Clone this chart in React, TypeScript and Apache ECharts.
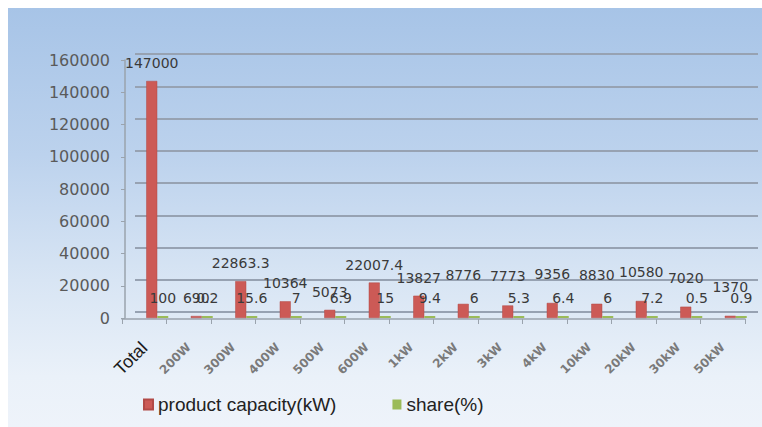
import React, { useEffect, useRef } from "react";
import * as echarts from "echarts";

// Capacity and share per product size
const categories = ["Total", "200W", "300W", "400W", "500W", "600W", "1kW", "2kW", "3kW", "4kW", "10kW", "20kW", "30kW", "50kW"];
const capacity = [147000, 690, 22863.3, 10364, 5073, 22007.4, 13827, 8776, 7773, 9356, 8830, 10580, 7020, 1370];
const share = [100, 0.2, 15.6, 7, 6.9, 15, 9.4, 6, 5.3, 6.4, 6, 7.2, 0.5, 0.9];
const seriesNames = ["product capacity(kW)", "share(%)"];
const yMax = 160000;
const yStep = 20000;

const RED = "#cc5a56";
const GREEN = "#9bbb59";
const AXIS_GRAY = "#9aa3ad";

export default function App() {
  const ref = useRef<HTMLDivElement>(null);

  useEffect(() => {
    if (!ref.current) return;
    const chart = echarts.init(ref.current, null, { renderer: "svg" });

    const labelText = {
      fontFamily: "DejaVu Sans",
      fontSize: 14,
      color: "#3a3a3a",
      formatter: (p: any) => String(p.value),
    };

    // the smaller capacity labels on the right side share one row
    const capacityData = capacity.map((v, i) => ({
      value: v,
      label: i >= 7 ? { offset: [0, -11] } : undefined,
    }));

    chart.setOption({
      animation: false,
      backgroundColor: "transparent",
      legend: {
        data: seriesNames,
        left: 130,
        top: 382,
        icon: "rect",
        itemWidth: 9,
        itemHeight: 10,
        itemGap: 56,
        textStyle: { fontFamily: "Liberation Sans", fontSize: 19, color: "#222" },
      },
      grid: [
        // middle depth: bars and value labels
        { left: 127, right: 4, top: 52, height: 258 },
        // back wall: gridlines sit slightly higher
        { left: 127, right: 4, top: 46, height: 258 },
        // front edge: floor line, ticks and category names
        { left: 114, right: 17, top: 52, height: 259 },
      ],
      xAxis: [
        {
          type: "category",
          gridIndex: 0,
          data: categories,
          axisLine: { show: false },
          axisTick: { show: false },
          axisLabel: { show: false },
        },
        {
          type: "category",
          gridIndex: 1,
          data: categories,
          show: false,
        },
        {
          type: "category",
          gridIndex: 2,
          data: categories,
          axisLine: { show: true, lineStyle: { color: AXIS_GRAY, width: 1.5 } },
          axisTick: { show: true, length: 5, lineStyle: { color: AXIS_GRAY } },
          axisLabel: {
            rotate: 45,
            margin: 26,
            interval: 0,
            formatter: (v: string) => (v === "Total" ? `{t|${v}}` : `{s|${v}}`),
            rich: {
              t: { fontFamily: "Liberation Sans", fontSize: 18, color: "#1a1a1a" },
              s: { fontFamily: "DejaVu Sans", fontSize: 12, fontWeight: "bold", color: "#7a7a7a" },
            },
          },
        },
      ],
      yAxis: [
        {
          type: "value",
          gridIndex: 0,
          min: 0,
          max: yMax,
          interval: yStep,
          offset: 10,
          axisLine: { show: true, lineStyle: { color: AXIS_GRAY, width: 1.5 } },
          axisTick: { show: true, length: 4, lineStyle: { color: AXIS_GRAY } },
          splitLine: { show: false },
          axisLabel: {
            margin: 15,
            fontFamily: "DejaVu Sans",
            fontSize: 16,
            color: "#5a5a5a",
            formatter: (v: number) => String(v),
          },
        },
        {
          type: "value",
          gridIndex: 1,
          min: 0,
          max: yMax,
          interval: yStep,
          axisLine: { show: false },
          axisTick: { show: false },
          axisLabel: { show: false },
          splitLine: { show: true, lineStyle: { color: "#97a2b2", width: 2 } },
        },
        {
          type: "value",
          gridIndex: 2,
          min: 0,
          max: yMax,
          show: false,
        },
      ],
      series: [
        {
          name: seriesNames[0],
          type: "bar",
          xAxisIndex: 0,
          yAxisIndex: 0,
          data: capacityData,
          barWidth: 11,
          barGap: "0%",
          barMinHeight: 2,
          itemStyle: { color: RED, borderColor: "#b24a47", borderWidth: 0.5 },
          label: { show: true, position: "top", distance: 11, ...labelText },
        },
        {
          name: seriesNames[1],
          type: "bar",
          xAxisIndex: 0,
          yAxisIndex: 0,
          data: share,
          barWidth: 11,
          barGap: "0%",
          barMinHeight: 2,
          itemStyle: { color: GREEN },
          label: { show: true, position: "top", distance: 11, ...labelText },
        },
      ],
    });

    return () => chart.dispose();
  }, []);

  return (
    <div
      ref={ref}
      style={{
        position: "fixed",
        left: 8,
        top: 8,
        width: 754,
        height: 419,
        background: "linear-gradient(to bottom, #a7c4e7 0%, #bcd2ed 35%, #d8e5f4 65%, #eaf1f9 88%, #eef3fa 100%)",
      }}
    />
  );
}
